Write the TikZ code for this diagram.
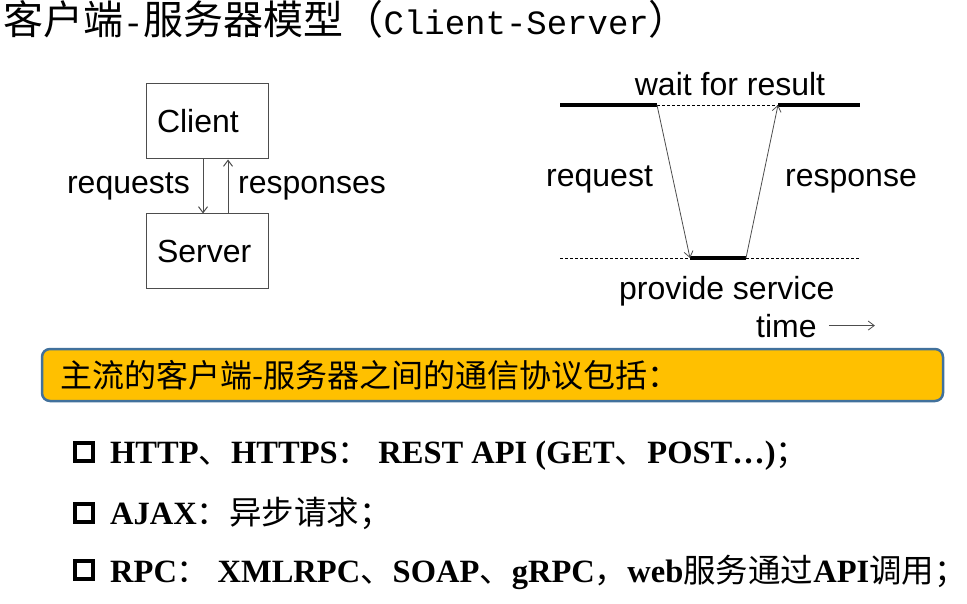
\documentclass[tikz,border=0pt]{standalone}
\usepackage{fontspec}
\setmainfont{Liberation Serif}
\setsansfont{Liberation Sans}
\setmonofont{Liberation Mono}
\newfontfamily\cjk{Noto Sans CJK SC}
\usetikzlibrary{arrows.meta}
\usetikzlibrary{positioning}
\definecolor{bannerfill}{HTML}{FFC000}
\definecolor{bannerline}{HTML}{41719C}
\definecolor{wiregray}{HTML}{4D4D4D}
\newcommand{\cn}[1]{{\cjk\mdseries\fontsize{32.5}{38}\selectfont #1}}
\newcommand{\titlecn}[1]{{\cjk\fontsize{40}{46}\selectfont #1}}
\newcommand{\titlett}[1]{{\ttfamily\fontsize{34}{40}\selectfont #1}}

\begin{document}
\begin{tikzpicture}[x=1pt,y=-1pt,>={Straight Barb[length=6pt,width=9pt]},
    box node/.style={draw=wiregray,line width=1pt,text width=100pt,inner xsep=11pt,inner ysep=0pt,
      minimum height=75pt,align=left,font=\sffamily\fontsize{32}{38}\selectfont},
    text node/.style={inner sep=0pt,font=\sffamily\fontsize{32}{38}\selectfont},
    wire/.style={->,draw=wiregray,line width=1pt},
    busy/.style={line width=4pt},
    idle/.style={line width=0.8pt,dash pattern=on 3pt off 2pt},
    banner node/.style={draw=bannerline,fill=bannerfill,line width=2.5pt,rounded corners=8pt,
      minimum height=52pt,text width=865pt,inner xsep=18pt,align=left,font=\cjk\fontsize{32}{38}\selectfont},
    bullet node/.style={draw,line width=4pt,minimum size=18pt,inner sep=0pt},
    item node/.style={anchor=base west,inner sep=0pt,font=\bfseries\fontsize{32.5}{38}\selectfont}]
  \useasboundingbox (0,0) rectangle (967,604);
  % title
  \node[anchor=base west,inner sep=0pt] (title) at (3,35)
    {\titlecn{客户端}\titlett{-}\titlecn{服务器模型（}\titlett{Client-Server}\titlecn{）}};
  % client / server boxes
  \node[box node] (client) at (207,121.5) {Client};
  \node[box node,below=54pt of client] (server) {Server};
  \draw[wire] ([xshift=-4pt]client.south) -- ([xshift=-4pt]server.north);
  \draw[wire] ([xshift=21pt]server.north) -- ([xshift=21pt]client.south);
  \node[text node,anchor=base east] (requests) at (190,194) {requests};
  \node[text node,anchor=base west] (responses) at (238,194) {responses};
  % timeline
  \coordinate (tl) at (560,105);
  \coordinate (send) at (657,105);
  \coordinate (recv) at (778,105);
  \coordinate (tr) at (860,105);
  \coordinate (bl) at (560,258);
  \coordinate (start) at (690,258);
  \coordinate (done) at (746,258);
  \coordinate (br) at (860,258);
  \draw[busy] (tl) -- (send);
  \draw[idle] (send) -- (recv);
  \draw[busy] (recv) -- (tr);
  \draw[idle] (bl) -- (start);
  \draw[busy] (start) -- (done);
  \draw[idle] (done) -- (br);
  \draw[wire,line width=0.8pt] (send) -- (start);
  \draw[wire,line width=0.8pt] (done) -- (recv);
  \node[text node,anchor=base] (wait) at (730,96) {wait for result};
  \node[text node,anchor=base west] (request) at (546,187) {request};
  \node[text node,anchor=base west] (response) at (785,187) {response};
  \node[text node,anchor=base west] (provide) at (619,300) {provide service};
  \node[text node,anchor=base west] (time) at (756,337) {time};
  \coordinate (tend) at ([xshift=58pt]time.east);
  \draw[wire,line width=0.8pt] ([xshift=12pt]time.east) -- (tend);
  % banner
  \node[banner node] (banner) at (492.5,375) {主流的客户端-服务器之间的通信协议包括：};
  % protocol list
  \node[bullet node] (b1) at (84,452) {};
  \node[bullet node] (b2) at (84,513) {};
  \node[bullet node] (b3) at (84,570) {};
  \node[item node] (http) at (110,463) {HTTP\cn{、}HTTPS\cn{：} REST API (GET\cn{、}POST…)\cn{；}};
  \node[item node] (ajax) at (110,524) {AJAX\cn{：异步请求；}};
  \node[item node] (rpc) at (110,582) {RPC\cn{：} XMLRPC\cn{、}SOAP\cn{、}gRPC\cn{，}web\cn{服务通过}API\cn{调用；}};
\end{tikzpicture}
\end{document}
